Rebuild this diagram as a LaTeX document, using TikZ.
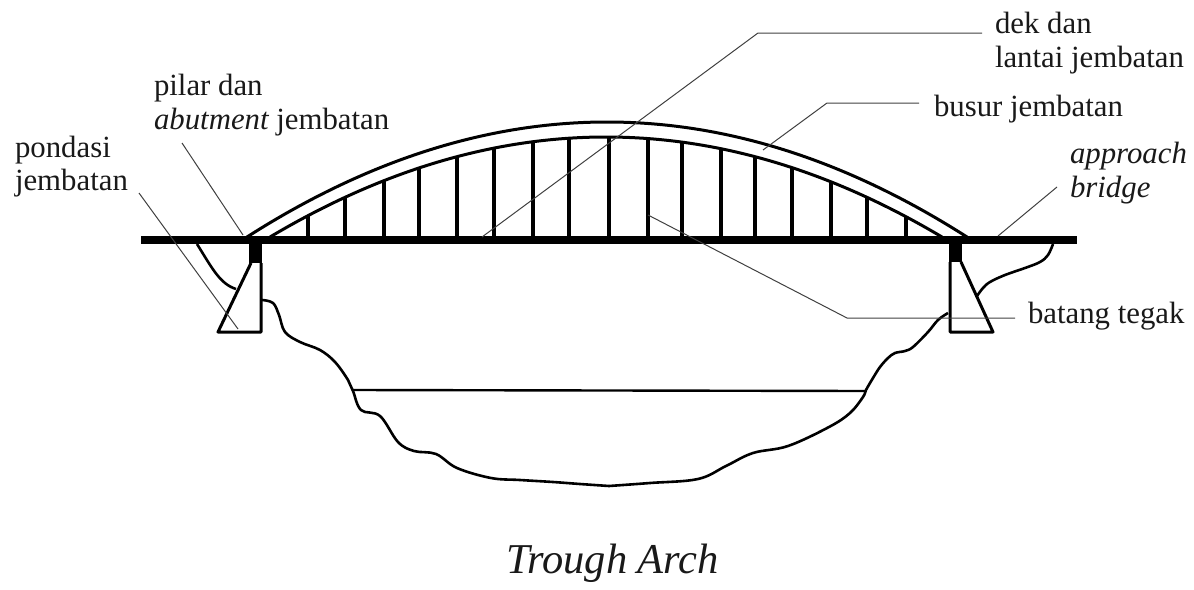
\documentclass[tikz,border=0pt]{standalone}
\usepackage{fontspec}
\setmainfont{Liberation Serif}
\tikzset{
  line/.style={draw=black,line width=3pt,line join=round},
  thinline/.style={draw=black,line width=2.4pt,line join=round},
  hanger/.style={draw=black,line width=3.2pt},
  leader/.style={draw=black!75,line width=1pt},
  lbl/.style={anchor=base west,inner sep=0pt,outer sep=0pt,font=\fontsize{30.8}{30.8}\selectfont,text=black!90},
  arch/.style={draw=black,line width=3pt},
  curve/.style={draw=black,line width=2.6pt,smooth,tension=0.6,line join=round}
}
\begin{document}
\begin{tikzpicture}[x=1pt,y=-1pt]
\useasboundingbox (0,0) rectangle (1194,589);
% deck and abutment blocks
\fill[black] (141,236) rectangle (1077,244);
\fill[black] (249,244) rectangle (262,263);
\fill[black] (949,244) rectangle (962,262);
% arch (parabolas)
\draw[arch] (247,237) .. controls (487,83.67) and (727,83.67) .. (967,237);
\draw[arch] (270,237) .. controls (494,103.67) and (718,103.67) .. (942,237);
% hangers
\foreach \x in {308,345,384,419,457,494,533,569,609,648,682,721,755,792,831,867,906}{
  \pgfmathsetmacro{\yy}{137+100*((\x-606)/336)*((\x-606)/336)}
  \draw[hanger] (\x,\yy) -- (\x,238);
}
% piers
\draw[line] (251,263) -- (218,332) -- (261,332) -- (261,263);
\draw[line] (950,262) -- (950,332) -- (993,332) -- (961,262);
% ground
\draw[draw=black,line width=2.6pt] (197,244) .. controls (212,268) and (220,284) .. (236,289);
\draw[curve] plot coordinates {(1053,244) (1048,255) (1040,262) (1025,268) (1005,275) (990,282) (983,288) (977,296)};
\draw[curve] plot coordinates {(262,300) (273,303) (279,315) (285,332) (300,342) (320,350) (335,362) (348,380) (353,391) (361,410) (380,416) (398,442) (414,451) (436,454) (457,468) (491,478) (520,480) (553,482) (580,484) (609,486)};
\draw[curve] plot coordinates {(609,486) (650,483) (698,479) (726,466) (753,453) (788,446) (829,427) (850,413) (863,397) (866,390) (873,378) (880,367) (888,358) (895,353) (905,351) (913,347) (928,332) (938,320) (948,313)};
\draw[thinline] (353,390) -- (866,391);
% labels
\node[lbl] (dek1) at (995,33) {dek dan};
\node[lbl] (dek2) at (995,67) {lantai jembatan};
\node[lbl] (busur) at (934,116) {busur jembatan};
\node[lbl] (pilar1) at (154,95) {pilar dan};
\node[lbl] (pilar2) at (154,129) {\itshape abutment \upshape jembatan};
\node[lbl] (pond1) at (15,157) {pondasi};
\node[lbl] (pond2) at (15,190) {jembatan};
\node[lbl] (appr1) at (1070,163) {\itshape approach};
\node[lbl] (appr2) at (1070,197) {\itshape bridge};
\node[lbl] (batang) at (1028,323) {batang tegak};
\node[lbl,font=\fontsize{42.5}{42.5}\selectfont\itshape] (title) at (506,573) {Trough Arch};
% leader ends
\coordinate (dekA) at (982,33);
\coordinate (dekB) at (758,33);
\coordinate (dekC) at (482,237);
\coordinate (busA) at (919,103);
\coordinate (busB) at (827,103);
\coordinate (busC) at (763,150);
\coordinate (pilA) at (182,143);
\coordinate (pilB) at (243,235);
\coordinate (ponA) at (139,193);
\coordinate (ponB) at (238,329);
\coordinate (appA) at (1057,187);
\coordinate (appB) at (998,236);
\coordinate (batA) at (1015,318);
\coordinate (batB) at (847,318);
\coordinate (batC) at (648,215);
\draw[leader] (dekA) -- (dekB) -- (dekC);
\draw[leader] (busA) -- (busB) -- (busC);
\draw[leader] (pilA) -- (pilB);
\draw[leader] (ponA) -- (ponB);
\draw[leader] (appA) -- (appB);
\draw[leader] (batA) -- (batB) -- (batC);
\end{tikzpicture}
\end{document}
